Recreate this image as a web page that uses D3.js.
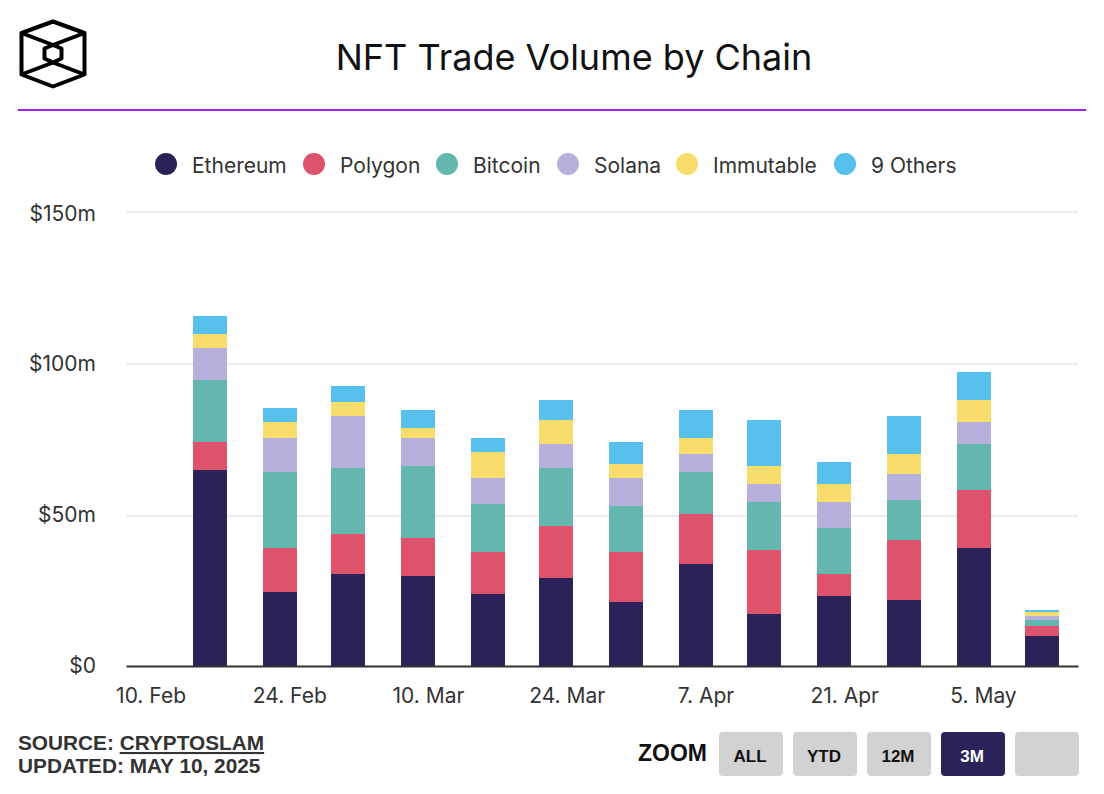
<!DOCTYPE html>
<html>
<head>
<meta charset="utf-8">
<script src="https://cdn.jsdelivr.net/npm/d3@7"></script>
<style>
  html, body { margin: 0; padding: 0; background: #fff; }
  text { font-family: Inter, sans-serif; }
  .foot { font-family: "Liberation Sans", sans-serif; font-weight: 700; }
</style>
</head>
<body>
<div id="chart"></div>
<script>
// weekly values in $m
const weeks = ["2025-02-16","2025-02-23","2025-03-02","2025-03-09","2025-03-16","2025-03-23","2025-03-30","2025-04-06","2025-04-13","2025-04-20","2025-04-27","2025-05-04","2025-05-11"];
const ethereum  = [64.8,24.4,30.4,29.7,23.8,29.1,21.1,33.7,17.2,23.1,21.8,39.0,9.9];
const polygon   = [9.2,14.5,13.2,12.6,13.9,17.2,16.5,16.5,21.1,7.3,19.8,19.2,3.3];
const bitcoin   = [20.5,25.1,21.8,23.8,15.9,19.2,15.2,13.9,15.9,15.2,13.2,15.2,2.0];
const solana    = [10.6,11.2,17.2,9.3,8.6,7.9,9.3,5.9,5.9,8.6,8.6,7.3,1.3];
const immutable = [4.6,5.3,4.6,3.3,8.6,7.9,4.6,5.3,5.9,5.9,6.6,7.3,1.3];
const others    = [5.9,4.6,5.3,5.9,4.6,6.6,7.3,9.3,15.2,7.3,12.6,9.3,0.7];

const seriesNames = ["Ethereum","Polygon","Bitcoin","Solana","Immutable","9 Others"];
const seriesValues = [ethereum,polygon,bitcoin,solana,immutable,others];
const colors = ["#2a235a","#df526b","#63b7ae","#b7b0dd","#f8dc6c","#58c0ec"];
const yTicks = [0,50,100,150];
const xTicks = ["2025-02-10","2025-02-24","2025-03-10","2025-03-24","2025-04-07","2025-04-21","2025-05-05"];
const zoomButtons = ["ALL","YTD","12M","3M",""];

const legendX = [166,314,447,568,687,845];

const parse = d3.utcParse("%Y-%m-%d");
// the reference snaps bars and grid to a 2px raster
const even = v => Math.round(v / 2) * 2;
const odd = v => Math.round((v - 1) / 2) * 2 + 1;

const svg = d3.select("#chart").append("svg")
    .attr("width", 1104)
    .attr("height", 794)
    .style("display", "block");

// logo
const logo = svg.append("g")
    .attr("fill", "none")
    .attr("stroke", "#000")
    .attr("stroke-width", 4)
    .attr("stroke-linejoin", "round");
logo.append("path").attr("d", "M53,21.5L84.5,33V74.5L53,86.5L21.5,74.5V33Z");
logo.append("path").attr("d", "M53,45L61.5,48.5V58.5L53,62.5L44.5,58.5V48.5Z");
logo.append("path").attr("d", "M21.5,33L53,45L84.5,33M21.5,74.5L53,62.5L84.5,74.5");

svg.append("text")
    .attr("x", 574).attr("y", 70)
    .attr("text-anchor", "middle")
    .attr("font-size", 36)
    .attr("fill", "#111")
    .text("NFT Trade Volume by Chain");

svg.append("line")
    .attr("x1", 18).attr("x2", 1086)
    .attr("y1", 110).attr("y2", 110)
    .attr("stroke", "#a020f0").attr("stroke-width", 2);

// legend
const legend = svg.selectAll(".legend")
    .data(seriesNames)
    .enter().append("g")
    .attr("class", "legend")
    .attr("transform", (d, i) => `translate(${legendX[i]},164)`);
legend.append("circle").attr("r", 11).attr("fill", (d, i) => colors[i]);
legend.append("text")
    .attr("x", 26).attr("y", 9)
    .attr("font-size", 21)
    .attr("fill", "#333")
    .text(d => d);

// scales
const x = d3.scaleUtc()
    .domain([new Date(Date.UTC(2025,1,7,12,33)), new Date(Date.UTC(2025,4,14,14,10))])
    .range([126, 1078]);
const y = d3.scaleLinear().domain([0,150]).range([666.8,212]);

// grid
svg.append("g").selectAll("line")
    .data(yTicks.filter(d => d > 0))
    .enter().append("line")
    .attr("x1", 126).attr("x2", 1078)
    .attr("y1", d => even(y(d))).attr("y2", d => even(y(d)))
    .attr("stroke", "#ececec").attr("stroke-width", 2);

// y axis
const yAxis = svg.append("g")
    .attr("transform", "translate(96,0)")
    .call(d3.axisLeft(y).tickValues(yTicks).tickSize(0).tickPadding(0).tickFormat(d => "$" + d + (d ? "m" : "")));
yAxis.select(".domain").remove();
yAxis.selectAll("text")
    .attr("font-family", "Inter, sans-serif")
    .attr("font-size", 21)
    .attr("fill", "#333")
    .attr("y", d => d === 150 ? 2 : d === 0 ? -1 : 0);

// stacked bars
const rows = weeks.map((w, i) => {
  const row = { date: parse(w) };
  seriesNames.forEach((s, j) => { row[s] = seriesValues[j][i]; });
  return row;
});
const stacked = d3.stack().keys(seriesNames)(rows);
const barWidth = 34;

svg.append("g").selectAll("g")
    .data(stacked)
    .enter().append("g")
    .attr("fill", (d, i) => colors[i])
    .selectAll("rect")
    .data(d => d)
    .enter().append("rect")
    .attr("x", d => odd(x(d.data.date) - barWidth / 2))
    .attr("width", barWidth)
    .attr("y", d => even(y(d[1])))
    .attr("height", d => even(y(d[0])) - even(y(d[1])));

// baseline and x axis
const xAxis = svg.append("g")
    .attr("transform", "translate(0,666)")
    .call(d3.axisBottom(x)
      .tickValues(xTicks.map(parse))
      .tickSize(0)
      .tickPadding(22)
      .tickFormat(d3.utcFormat("%-d. %b")));
xAxis.select(".domain").attr("stroke", "#333").attr("stroke-width", 2);
xAxis.selectAll("text")
    .attr("font-family", "Inter, sans-serif")
    .attr("font-size", 21)
    .attr("fill", "#333");

// footer
const source = svg.append("text")
    .attr("class", "foot")
    .attr("x", 18).attr("y", 750)
    .attr("font-size", 20.8)
    .attr("fill", "#333");
source.append("tspan").text("SOURCE: ");
source.append("tspan").attr("text-decoration", "underline").text("CRYPTOSLAM");
svg.append("text")
    .attr("class", "foot")
    .attr("x", 18).attr("y", 773)
    .attr("font-size", 20.8)
    .attr("fill", "#333")
    .text("UPDATED: MAY 10, 2025");

// zoom buttons
svg.append("text")
    .attr("class", "foot")
    .attr("x", 638).attr("y", 761)
    .attr("font-size", 23)
    .attr("fill", "#111")
    .text("ZOOM");

const buttons = svg.selectAll(".btn")
    .data(zoomButtons)
    .enter().append("g")
    .attr("class", "btn")
    .attr("transform", (d, i) => `translate(${719 + i * 74},732)`);
buttons.append("rect")
    .attr("width", 64).attr("height", 44).attr("rx", 4)
    .attr("fill", d => d === "3M" ? "#2a235a" : "#d2d2d2");
buttons.append("text")
    .attr("class", "foot")
    .attr("x", 31).attr("y", 30)
    .attr("text-anchor", "middle")
    .attr("font-size", 17)
    .attr("fill", d => d === "3M" ? "#fff" : "#111")
    .text(d => d);
</script>
</body>
</html>
